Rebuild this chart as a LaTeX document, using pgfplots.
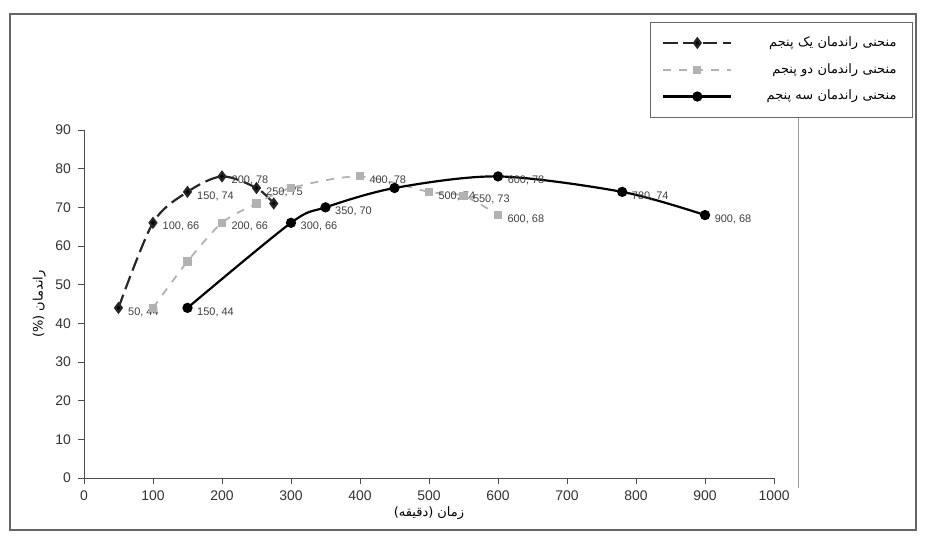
\documentclass[border=0pt]{standalone}
\usepackage{fontspec}
\setmainfont{Liberation Sans}
\newfontfamily\arabicfont[Script=Arabic]{DejaVu Sans}
\TeXXeTstate=1
\usepackage{pgfplots}
\usepackage{pgfplotstable}
\pgfplotsset{compat=1.18}

\pgfplotstableread{
x y lab
50 44 {50, 44}
100 66 {100, 66}
150 74 {150, 74}
200 78 {200, 78}
250 75 {250, 75}
275 71 {}
}\seriesA
\pgfplotstableread{
x y lab
100 44 {}
150 56 {}
200 66 {200, 66}
250 71 {}
300 75 {}
400 78 {400, 78}
500 74 {500, 74}
550 73 {550, 73}
600 68 {600, 68}
}\seriesB
\pgfplotstableread{
x y lab
150 44 {150, 44}
300 66 {300, 66}
350 70 {350, 70}
450 75 {}
600 78 {600, 78}
780 74 {780, 74}
900 68 {900, 68}
}\seriesC

\begin{document}
\begin{tikzpicture}
\begin{axis}[
  scale only axis,
  width=345bp, height=174bp,
  xmin=0, xmax=1000, ymin=0, ymax=90,
  xtick={0,100,...,1000}, ytick={0,10,...,90},
  axis x line*=bottom, axis y line*=left,
  axis line style={black!70, -},
  tick style={black!70},
  tick align=outside,
  major tick length=3bp,
  /pgf/number format/assume math mode=true,
  /pgf/number format/1000 sep={},
  tick label style={font=\fontsize{7}{8}\selectfont, text=black!80},
  xlabel={\arabicfont\beginR زمان (دقیقه)\endR},
  ylabel={\arabicfont\beginR راندمان (\%)\endR},
  xlabel style={font=\fontsize{6.5}{8}\selectfont, yshift=4bp},
  ylabel style={font=\fontsize{6.5}{8}\selectfont, yshift=-2bp},
  clip=false,
  legend style={at={(rel axis cs:0.82,1.31)}, anchor=north west,
    draw=black!60, fill=white, font=\fontsize{6.5}{8}\selectfont,
    row sep=3bp, inner xsep=6bp, inner ysep=5bp,
    text width=80bp, align=right},
  legend cell align=right,
  legend image code/.code={\draw[mark repeat=2,mark phase=2] plot coordinates {(0cm,0cm) (0.6cm,0cm) (1.2cm,0cm)};},
  nodes near coords,
  point meta=explicit symbolic,
  every node near coord/.append style={font=\fontsize{5.5}{6}\selectfont, text=black!75, anchor=west, xshift=1bp, yshift=-2bp},
]
\addplot[black!85, line width=1.1pt, dash pattern=on 7pt off 3pt, smooth, tension=0.5,
  mark=diamond*, mark size=2.2pt, mark options={solid, fill=black}]
  table[x=x, y=y, meta=lab] {\seriesA};
\addlegendentry{\arabicfont\beginR منحنی راندمان یک پنجم\endR}
\addplot[black!30, line width=0.9pt, dash pattern=on 4pt off 4pt, smooth, tension=0.5,
  mark=square*, mark size=1.6pt, mark options={solid, fill=black!30}]
  table[x=x, y=y, meta=lab] {\seriesB};
\addlegendentry{\arabicfont\beginR منحنی راندمان دو پنجم\endR}
\addplot[black, line width=1.1pt, smooth, tension=0.5,
  mark=*, mark size=2pt, mark options={fill=black}]
  table[x=x, y=y, meta=lab] {\seriesC};
\addlegendentry{\arabicfont\beginR منحنی راندمان سه پنجم\endR}
\draw[black!40, line width=0.4pt] (rel axis cs:1.035,-0.03) -- (rel axis cs:1.035,1.05);
\draw[black!60, line width=0.8pt] (rel axis cs:-0.107,-0.149) rectangle (rel axis cs:1.206,1.333);
\path (rel axis cs:-0.1217,-0.178) rectangle (rel axis cs:1.2188,1.3736);
\end{axis}
\end{tikzpicture}
\end{document}
